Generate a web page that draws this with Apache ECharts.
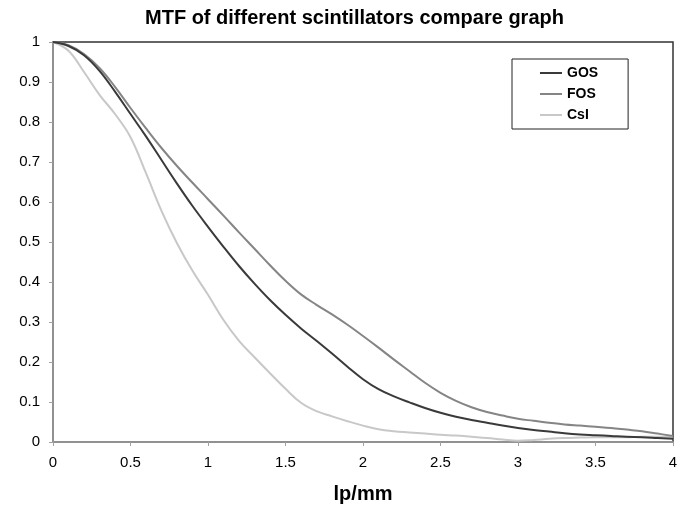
<!DOCTYPE html>
<html>
<head>
<meta charset="utf-8">
<script src="https://cdn.jsdelivr.net/npm/echarts@6/dist/echarts.min.js"></script>
<style>html,body{margin:0;padding:0;background:#fff}#c{width:688px;height:506px}</style>
</head>
<body>
<div id="c"></div>
<script>
var chartTitle = 'MTF of different scintillators compare graph';
var xName = 'lp/mm';
var seriesNames = ['GOS', 'FOS', 'CsI'];
var freq = [0,0.1,0.2,0.3,0.4,0.5,0.6,0.7,0.8,0.9,1.0,1.1,1.2,1.3,1.4,1.5,1.6,1.7,1.8,1.9,2.0,
            2.1,2.2,2.3,2.4,2.5,2.6,2.7,2.8,2.9,3.0,3.1,3.2,3.3,3.4,3.5,3.6,3.7,3.8,3.9,4.0];
var gos = [1.0,0.99,0.967,0.928,0.876,0.82,0.764,0.705,0.646,0.59,0.538,0.488,0.44,0.396,0.355,0.318,0.284,0.253,0.221,0.188,0.157,
           0.132,0.114,0.099,0.085,0.073,0.063,0.055,0.048,0.041,0.035,0.030,0.026,0.022,0.019,0.017,0.015,0.013,0.012,0.010,0.008];
var fos = [1.0,0.992,0.97,0.935,0.888,0.835,0.784,0.735,0.69,0.648,0.607,0.566,0.524,0.483,0.442,0.403,0.369,0.343,0.319,0.293,0.265,
           0.236,0.206,0.177,0.148,0.123,0.103,0.087,0.075,0.066,0.058,0.053,0.048,0.044,0.041,0.038,0.035,0.031,0.027,0.021,0.015];
var csi = [1.0,0.978,0.925,0.868,0.82,0.762,0.672,0.578,0.497,0.428,0.368,0.305,0.253,0.212,0.172,0.133,0.098,0.077,0.064,0.052,0.041,
           0.032,0.027,0.024,0.021,0.018,0.016,0.013,0.010,0.006,0.003,0.005,0.008,0.010,0.011,0.012,0.012,0.012,0.013,0.013,0.013];
var colors = ['#3a3a3a', '#858585', '#c8c8c8'];

function pairs(ys) { return freq.map(function (x, i) { return [x, ys[i]]; }); }
var values = [gos, fos, csi];
var FONT = "'Liberation Sans', Arial, sans-serif";

var chart = echarts.init(document.getElementById('c'), null, {renderer: 'canvas'});
chart.setOption({
  animation: false,
  backgroundColor: '#fff',
  title: {
    text: chartTitle, left: 145, top: 8, padding: 0,
    textStyle: {fontFamily: FONT, fontSize: 20, fontWeight: 'bold', color: '#000'}
  },
  legend: {
    orient: 'vertical', left: 512, top: 59,
    padding: [7, 30, 7, 28], itemGap: 7, itemWidth: 22, itemHeight: 15,
    borderColor: '#222', borderWidth: 1,
    icon: 'path://M0,6 L22,6 L22,8 L0,8 Z',
    textStyle: {fontFamily: FONT, fontSize: 14, fontWeight: 'bold', color: '#000'},
    data: seriesNames
  },
  grid: {left: 53, right: 15, top: 42, bottom: 64, outerBoundsMode: 'none', containLabel: false,
         show: true, borderColor: '#333', borderWidth: 1.5, backgroundColor: 'transparent'},
  xAxis: {
    type: 'value', min: 0, max: 4, interval: 0.5,
    name: xName, nameLocation: 'middle', nameGap: 42,
    nameTextStyle: {fontFamily: FONT, fontSize: 20, fontWeight: 'bold', color: '#000'},
    axisLine: {show: true, onZero: false, lineStyle: {color: '#a0a0a0', width: 1.5}},
    axisTick: {show: true, length: 4, lineStyle: {color: '#a0a0a0'}},
    axisLabel: {margin: 13, fontFamily: FONT, fontSize: 15, color: '#000'},
    splitLine: {show: false}
  },
  yAxis: {
    type: 'value', min: 0, max: 1, interval: 0.1,
    axisLine: {show: true, onZero: false, lineStyle: {color: '#a0a0a0', width: 1.5}},
    axisTick: {show: true, length: 4, lineStyle: {color: '#a0a0a0'}},
    axisLabel: {margin: 13, fontFamily: FONT, fontSize: 15, color: '#000'},
    splitLine: {show: false}
  },
  series: seriesNames.map(function (n, i) {
    return {
      name: n, type: 'line', data: pairs(values[i]), smooth: 0.4,
      symbol: 'none', color: colors[i],
      lineStyle: {color: colors[i], width: 2},
      z: 3 - i
    };
  })
});
</script>
</body>
</html>
